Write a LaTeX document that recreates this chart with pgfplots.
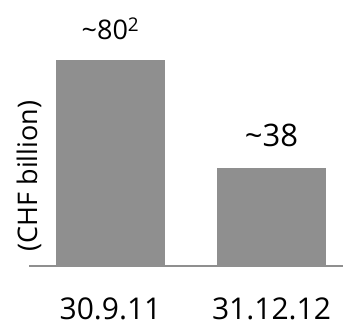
\documentclass[border=0pt]{standalone}
\usepackage{fontspec}
\setmainfont{Open Sans}
\usepackage{pgfplots}
\pgfplotsset{compat=1.18}
\definecolor{bargray}{HTML}{8F8F8F}
\begin{document}
\begin{tikzpicture}
\useasboundingbox (0,0) rectangle (347bp,327bp);
\begin{axis}[
  at={(29bp,61bp)}, anchor=south west,
  scale only axis, width=314bp, height=257.5bp,
  xmin=-0.506, xmax=1.444, ymin=0, ymax=100,
  axis x line*=bottom, axis y line=none,
  x axis line style={draw=bargray, line width=2bp},
  major tick length=0pt,
  xtick={0,1}, xticklabels={30.9.11,31.12.12},
  xticklabel style={anchor=base, yshift=-53bp, inner sep=0pt, font=\fontsize{30bp}{34bp}\selectfont},
  ytick=\empty,
  ybar, bar width=0.671, bar shift=0pt,
  nodes near coords, point meta=explicit symbolic,
  every node near coord/.append style={anchor=base, inner sep=0pt, text=black},
  clip=false,
]
\addplot[fill=bargray, draw=none,
  every node near coord/.append style={yshift=20bp, font=\fontsize{27bp}{31bp}\selectfont}]
  coordinates {(0,80) [\textasciitilde 80\textsuperscript{2}]};
\addplot[fill=bargray, draw=none,
  every node near coord/.append style={yshift=22bp, font=\fontsize{31bp}{35bp}\selectfont}]
  coordinates {(1,38) [\textasciitilde 38]};
\node[rotate=90, anchor=center, inner sep=0pt, font=\fontsize{27bp}{31bp}\selectfont, xshift=-4bp]
  at (rel axis cs:0,0.365) {(CHF billion)};
\end{axis}
\end{tikzpicture}
\end{document}
